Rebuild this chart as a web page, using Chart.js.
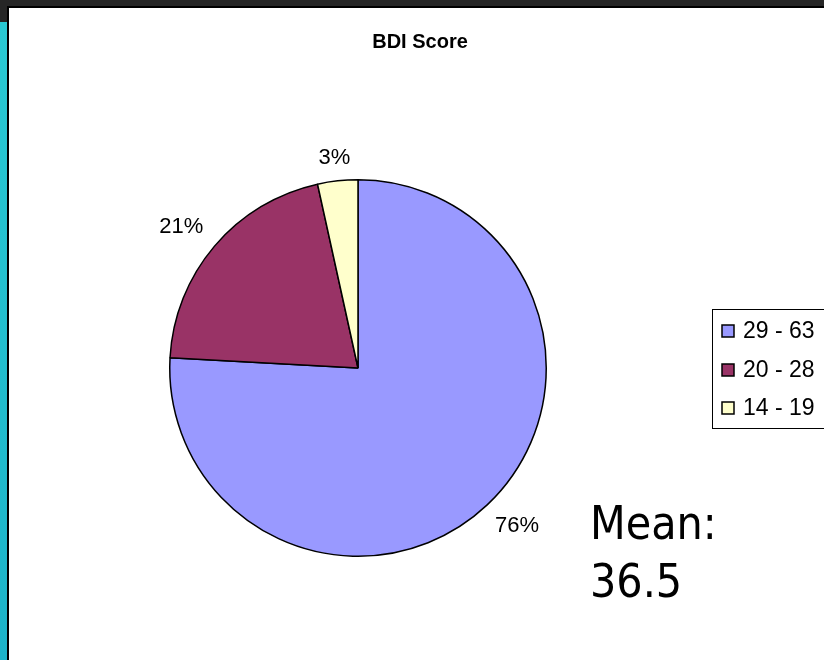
<!DOCTYPE html>
<html>
<head>
<meta charset="utf-8">
<script src="https://cdn.jsdelivr.net/npm/chart.js@4/dist/chart.umd.min.js"></script>
<style>
  html, body { margin: 0; padding: 0; }
  body { width: 824px; height: 660px; background: #262626; position: relative; overflow: hidden; }
  #strip { position: absolute; left: 0; top: 22px; width: 8px; height: 638px;
           background: linear-gradient(#29c9d3, #1cb3c9); }
  #frame { position: absolute; left: 7px; top: 6px; width: 830px; height: 660px;
           border-left: 2px solid #000; border-top: 2px solid #000; background: #fff; }
  #chart { position: absolute; left: 9px; top: 8px; }
</style>
</head>
<body>
<div id="strip"></div>
<div id="frame"></div>
<canvas id="chart" width="815" height="652"></canvas>
<script>
// データ（n=29）
const TITLE = 'BDI Score';
const categories = ['29 - 63', '20 - 28', '14 - 19'];
const counts = [22, 6, 1];
const colors = ['#9999ff', '#993366', '#ffffcc'];
const meanLines = ['Mean:', '36.5'];

const SANS = '"Liberation Sans", Arial, sans-serif';

// タイトル・パーセント・凡例・平均値を描くプラグイン
const extras = {
  id: 'extras',
  afterDraw(chart) {
    const ctx = chart.ctx;
    const meta = chart.getDatasetMeta(0);
    const total = counts.reduce((s, v) => s + v, 0);
    ctx.save();
    ctx.fillStyle = '#000';

    // タイトル
    ctx.font = 'bold 20px ' + SANS;
    ctx.textAlign = 'center';
    ctx.textBaseline = 'middle';
    ctx.fillText(TITLE, 411, 34);

    // パーセントラベル（円の外側）
    ctx.font = '22px ' + SANS;
    meta.data.forEach((arc, i) => {
      const { x, y, startAngle, endAngle, outerRadius } = arc.getProps(['x', 'y', 'startAngle', 'endAngle', 'outerRadius'], true);
      const mid = (startAngle + endAngle) / 2;
      const dx = Math.cos(mid), dy = Math.sin(mid);
      const txt = Math.round(counts[i] / total * 100) + '%';
      const w = ctx.measureText(txt).width, h = 16;
      const gap = 14 + 10 * Math.abs(dx);
      const px = x + dx * (outerRadius + gap) + dx * w / 2;
      const py = y + dy * (outerRadius + gap) + dy * h / 2;
      ctx.fillText(txt, px, py);
    });

    // 凡例
    ctx.font = '23px ' + SANS;
    ctx.lineWidth = 1;
    ctx.strokeStyle = '#000';
    ctx.strokeRect(703.5, 301.5, 200, 119);
    ctx.textAlign = 'left';
    const rowY = [323, 362, 400];
    categories.forEach((c, i) => {
      ctx.fillStyle = colors[i];
      ctx.fillRect(713, rowY[i] - 6, 12, 12);
      ctx.lineWidth = 1.5;
      ctx.strokeRect(713, rowY[i] - 6, 12, 12);
      ctx.fillStyle = '#000';
      ctx.fillText(c, 734, rowY[i] + 1);
    });

    // 平均値
    ctx.font = '46px "DejaVu Sans Condensed", "DejaVu Sans", sans-serif';
    ctx.textBaseline = 'alphabetic';
    ctx.fillText(meanLines[0], 581, 531);
    ctx.fillText(meanLines[1], 581, 589);
    ctx.restore();
  }
};

new Chart(document.getElementById('chart'), {
  type: 'pie',
  data: {
    labels: categories,
    datasets: [{
      data: counts,
      backgroundColor: colors,
      borderColor: '#000',
      borderWidth: 1.5,
    }],
  },
  options: {
    responsive: false,
    animation: false,
    layout: { padding: { left: 160, top: 171, right: 277, bottom: 103 } },
    plugins: {
      legend: { display: false },
      tooltip: { enabled: false },
      title: { display: false },
    },
  },
  plugins: [extras],
});
</script>
</body>
</html>
